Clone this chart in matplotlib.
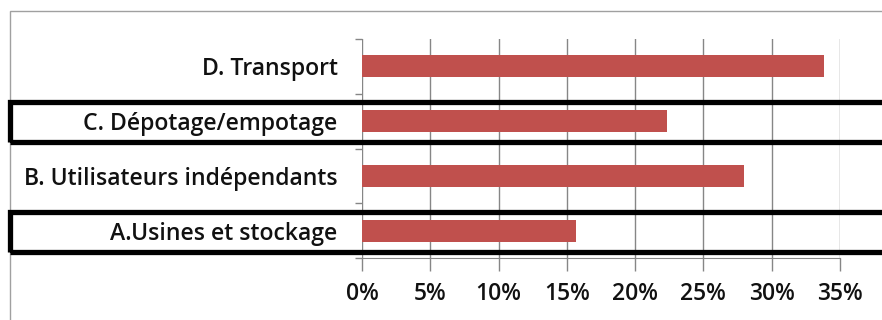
import matplotlib
matplotlib.use("Agg")
import matplotlib.pyplot as plt
from matplotlib.patches import Rectangle
from matplotlib.ticker import FuncFormatter

categories = ["A.Usines et stockage", "B. Utilisateurs indépendants",
              "C. Dépotage/empotage", "D. Transport"]
shares = [15.7, 28.0, 22.3, 33.8]
xticks = [0, 5, 10, 15, 20, 25, 30, 35]
highlighted = ["A.Usines et stockage", "C. Dépotage/empotage"]

W, H = 882, 320
fig = plt.figure(figsize=(W / 100, H / 100), dpi=100)
fig.patch.set_facecolor("white")

def fx(px):
    return px / W

def fy(py):
    return 1 - py / H

# plot area: 0% at x=362, 35% at x=840, top y=39, bottom y=258
ax = fig.add_axes([fx(362), fy(258), fx(840) - fx(362), (258 - 39) / H])
ypos = list(range(len(categories)))
ax.barh(ypos, shares, height=0.4, color="#C0504D", zorder=3)
ax.set_xlim(0, 35)
ax.set_ylim(-0.5, len(categories) - 0.5)
ax.set_xticks(xticks)
ax.xaxis.set_major_formatter(FuncFormatter(lambda v, p: f"{v:.0f}%"))
ax.set_yticks([y - 0.5 for y in range(len(categories) + 1)], minor=False)
ax.set_yticklabels([])
ax.set_yticks(ypos, minor=True)
ax.set_yticklabels(categories, minor=True)
ax.tick_params(axis="y", which="minor", length=0, pad=17.5,
               labelsize=16.6, labelcolor="#111111")
ax.tick_params(axis="y", which="major", length=5, color="#868686", width=1)
ax.tick_params(axis="x", length=9, color="#868686", width=1, pad=8,
               labelsize=16.5, labelcolor="#111111")
for lab in ax.get_yticklabels(minor=True) + ax.get_xticklabels():
    lab.set_family(["Open Sans", "DejaVu Sans"])
    lab.set_weight("semibold")
ax.grid(axis="x", color="#868686", linewidth=1, zorder=0)
for side in ["top", "right"]:
    ax.spines[side].set_visible(False)
ax.spines["left"].set_visible(False)
ax.spines["bottom"].set_color("#868686")

# outer chart frame
fig.add_artist(Rectangle((fx(10), fy(340)), fx(900) - fx(10), (340 - 11) / H,
                         transform=fig.transFigure, fill=False,
                         edgecolor="#a0a0a0", linewidth=1, clip_on=False))

# emphasis boxes around two categories
boxes = {"C. Dépotage/empotage": (99, 144), "A.Usines et stockage": (209, 254)}
for name in highlighted:
    top, bot = boxes[name]
    fig.add_artist(Rectangle((fx(9.5), fy(bot - 2.5)), fx(900) - fx(9.5),
                             (bot - top - 5) / H, transform=fig.transFigure,
                             fill=False, edgecolor="black", linewidth=3.8,
                             clip_on=False))

fig.savefig("out.png", dpi=100)
